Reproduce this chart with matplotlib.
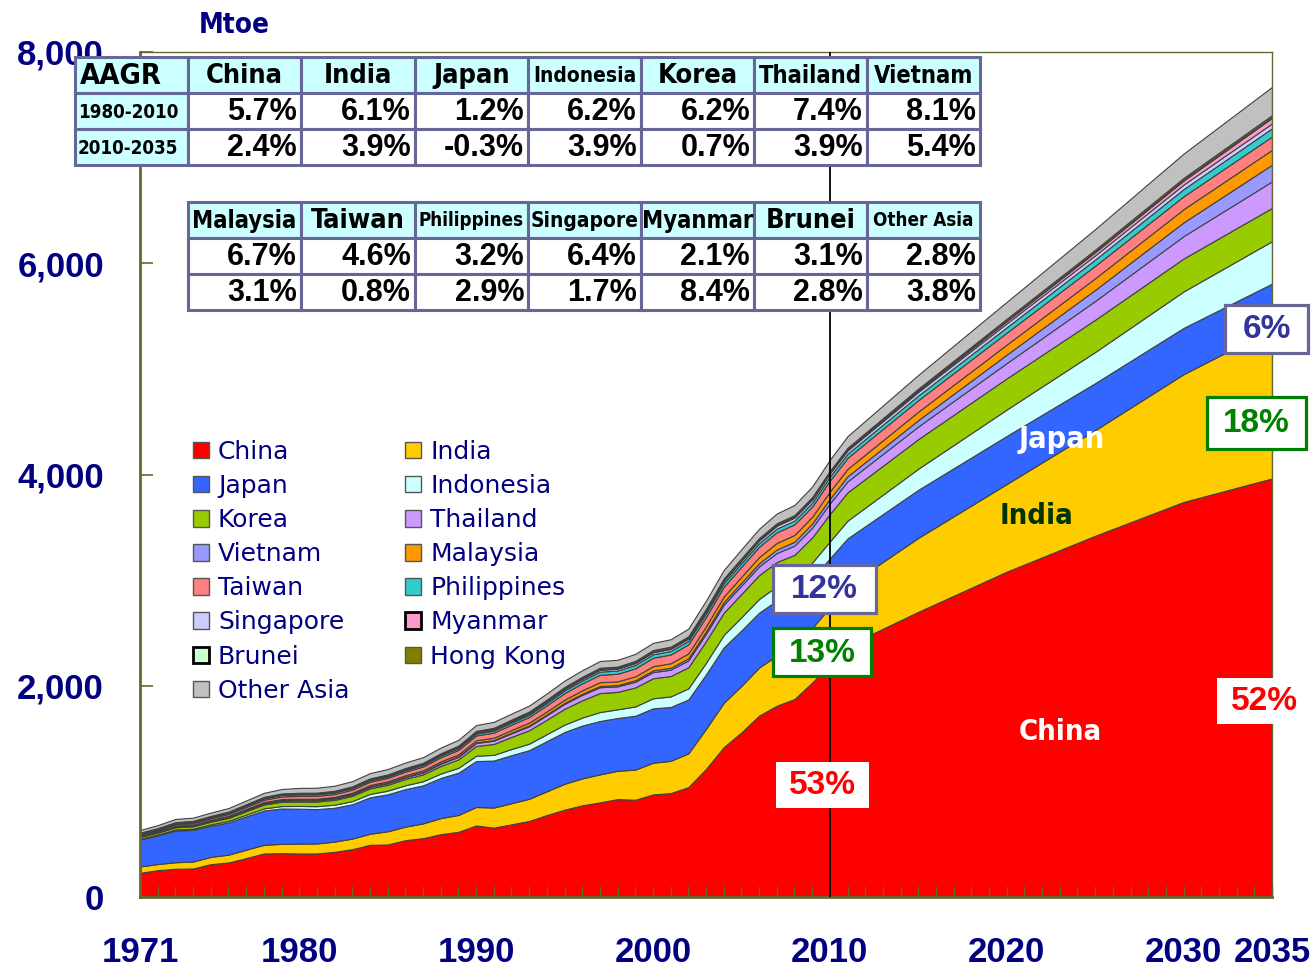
import matplotlib
matplotlib.use("Agg")
import matplotlib.pyplot as plt
from matplotlib.patches import Rectangle, Patch
from matplotlib import font_manager
from matplotlib.font_manager import FontProperties

# ---------------- data ----------------
years = list(range(1971, 2011)) + [2011, 2015, 2020, 2025, 2030, 2035]

china = [229, 254, 267, 270, 311, 327, 368, 412, 415, 412, 412, 428, 453, 494, 497, 538, 557, 595, 617, 677,
         657, 688, 720, 776, 827, 868, 896, 927, 921, 971, 984, 1040, 1213, 1418, 1559, 1717, 1811, 1874, 2031, 2200,
         2380, 2700, 3080, 3420, 3740, 3963]
india = [60, 58, 62, 66, 69, 74, 80, 82, 88, 94, 95, 97, 100, 105, 125, 128, 140, 152, 160, 175,
         190, 200, 210, 225, 245, 255, 265, 268, 285, 300, 305, 320, 380, 420, 440, 455, 475, 490, 515, 543,
         565, 700, 830, 1000, 1210, 1414]
japan = [255, 270, 300, 300, 295, 305, 315, 325, 335, 330, 325, 320, 325, 345, 350, 355, 360, 380, 400, 435,
         445, 455, 460, 475, 490, 500, 505, 500, 510, 515, 510, 510, 515, 525, 525, 520, 520, 495, 470, 463,
         450, 455, 455, 445, 438, 430]
indonesia = [8, 9, 10, 11, 13, 15, 17, 20, 23, 26, 28, 29, 30, 32, 35, 37, 39, 42, 46, 50,
             54, 58, 62, 66, 70, 76, 85, 82, 88, 95, 100, 105, 110, 118, 125, 130, 135, 145, 150, 160,
             168, 200, 250, 295, 345, 402]
korea = [17, 18, 21, 23, 25, 28, 33, 37, 41, 42, 44, 46, 50, 53, 55, 60, 65, 72, 80, 93,
         103, 115, 127, 137, 150, 163, 180, 165, 180, 190, 193, 200, 205, 210, 220, 225, 230, 235, 238, 260,
         268, 280, 295, 305, 312, 315]
thailand = [5, 5.5, 6.5, 7, 8, 8.5, 9.5, 10.5, 11.5, 12, 12, 12.5, 13, 14, 15, 16, 18, 21, 24, 28,
            31, 34, 38, 42, 47, 52, 55, 52, 54, 58, 60, 65, 70, 76, 80, 83, 86, 88, 92, 100,
            104, 120, 145, 178, 212, 251]
vietnam = [3, 3, 3.2, 3.3, 3.5, 3.7, 3.9, 4.1, 4.3, 4.4, 4.4, 4.5, 4.6, 4.7, 4.9, 5, 5.2, 5.5, 5.7, 6,
           6.3, 6.8, 7.5, 8.2, 9, 10, 11.5, 12.5, 14, 16, 18, 20, 22, 25, 28, 30, 33, 36, 40, 45,
           48, 60, 80, 105, 130, 158]
malaysia = [5, 5.3, 5.8, 6.3, 6.7, 7.2, 7.8, 8.4, 9, 9.7, 10, 10.6, 11.5, 12.5, 13.5, 14, 15, 16.5, 18, 20,
            22, 24, 26.5, 28, 30, 33, 36, 35, 37, 40, 43, 46, 48, 52, 55, 58, 62, 65, 64, 68,
            70, 80, 95, 110, 125, 141]
taiwan = [10, 11, 13, 14, 15, 17, 19, 22, 25, 27, 27, 27, 29, 31, 32, 34, 36, 39, 42, 45,
          48, 51, 54, 58, 62, 66, 70, 72, 76, 80, 83, 86, 89, 92, 95, 98, 101, 100, 96, 103,
          105, 109, 113, 118, 122, 126]
philippines = [9, 9.5, 10.5, 10.5, 11, 12, 13, 13.5, 14.5, 15, 15, 15, 15, 14, 14, 14.5, 15, 16, 17, 18,
               18.5, 20, 21, 23, 25, 27, 30, 31, 32, 33, 33, 33, 34, 34, 34, 33, 35, 36, 37, 38,
               39, 44, 51, 59, 68, 78]
singapore = [2.5, 2.7, 3, 3.2, 3.4, 3.6, 3.9, 4.2, 4.5, 4.7, 5, 5.3, 5.6, 6, 6.5, 7, 7.7, 8.5, 9.5, 11,
             12, 12.5, 13, 14, 15, 16, 17, 17, 18, 19, 20, 21, 22, 23, 24, 26, 27, 28, 29, 30,
             31, 34, 37, 40, 43, 46]
myanmar = [2.5, 2.6, 2.7, 2.8, 2.9, 3, 3.2, 3.4, 3.6, 3.7, 3.8, 3.9, 4, 4, 4.1, 4, 3.9, 3.6, 3.7, 3.8,
           3.9, 4, 4.2, 4.5, 4.7, 5, 5.2, 5.3, 5.5, 5.6, 5.8, 6, 6.2, 6.4, 6.5, 6.6, 6.7, 6.8, 6.9, 7,
           8, 12, 22, 30, 38, 52]
brunei = [0.5, 0.6, 0.7, 0.8, 0.9, 1, 1.1, 1.2, 1.25, 1.3, 1.35, 1.4, 1.45, 1.5, 1.55, 1.6, 1.6, 1.65, 1.7, 1.8,
          1.9, 2, 2, 2.1, 2.1, 2.2, 2.2, 2.3, 2.3, 2.3, 2.4, 2.5, 2.6, 2.7, 2.8, 2.9, 3, 3.1, 3.2, 3.3,
          3.4, 4, 4.5, 5.2, 6, 6.6]
hongkong = [3, 3.2, 3.5, 3.5, 3.7, 4, 4.3, 4.6, 4.8, 5, 5.3, 5.6, 6, 6.4, 6.8, 7.2, 7.6, 8, 8.5, 9,
            9.5, 10, 10.5, 11, 11.5, 12, 12.5, 12.5, 13, 13, 13, 13.5, 13.5, 13.5, 13.5, 14, 14, 14, 14, 14,
            14, 15, 17, 18, 19, 20]
other_asia = [25, 28, 30, 30, 31, 33, 35, 38, 42, 46, 47, 48, 49, 50, 51, 52, 53, 54, 55, 55,
              56, 56, 57, 58, 60, 62, 64, 64, 66, 68, 70, 73, 76, 80, 84, 88, 92, 96, 100, 105,
              110, 130, 160, 195, 230, 267]

series_names = ["China", "India", "Japan", "Indonesia", "Korea", "Thailand", "Vietnam", "Malaysia",
                "Taiwan", "Philippines", "Singapore", "Myanmar", "Brunei", "Hong Kong", "Other Asia"]
series_values = [china, india, japan, indonesia, korea, thailand, vietnam, malaysia,
                 taiwan, philippines, singapore, myanmar, brunei, hongkong, other_asia]
series_colors = ["#FF0000", "#FFCC00", "#3366FF", "#CCFFFF", "#99CC00", "#CC99FF", "#9999FF", "#FF9900",
                 "#FF8080", "#33CCCC", "#CCCCFF", "#FF99CC", "#CCFFCC", "#808000", "#C0C0C0"]

x_tick_years = [1971, 1980, 1990, 2000, 2010, 2020, 2030, 2035]
y_ticks = [0, 2000, 4000, 6000, 8000]
y_tick_labels = ["0", "2,000", "4,000", "6,000", "8,000"]

t1_header = ["AAGR", "China", "India", "Japan", "Indonesia", "Korea", "Thailand", "Vietnam"]
t1_rowlab = ["1980-2010", "2010-2035"]
t1_r1 = ["5.7%", "6.1%", "1.2%", "6.2%", "6.2%", "7.4%", "8.1%"]
t1_r2 = ["2.4%", "3.9%", "-0.3%", "3.9%", "0.7%", "3.9%", "5.4%"]
t2_header = ["Malaysia", "Taiwan", "Philippines", "Singapore", "Myanmar", "Brunei", "Other Asia"]
t2_r1 = ["6.7%", "4.6%", "3.2%", "6.4%", "2.1%", "3.1%", "2.8%"]
t2_r2 = ["3.1%", "0.8%", "2.9%", "1.7%", "8.4%", "2.8%", "3.8%"]

# ---------------- fonts ----------------
def find_condensed(bold):
    best = None
    for f in font_manager.fontManager.ttflist:
        isbold = f.weight in ("bold", 700, "heavy", 800, "demibold", 600) or (isinstance(f.weight, int) and f.weight >= 600)
        if isbold != bold or f.style != "normal":
            continue
        if f.name == "Liberation Sans Narrow":
            return FontProperties(fname=f.fname)
        if f.name == "DejaVu Sans" and str(f.stretch) in ("condensed", "semi-condensed") or "Condensed" in f.fname and "DejaVuSans" in f.fname and "Mono" not in f.fname:
            best = FontProperties(fname=f.fname)
    if best is None:
        best = FontProperties(family="Liberation Sans", weight="bold" if bold else "normal")
    return best

COND = find_condensed(False)
COND_B = find_condensed(True)
SANS = "Liberation Sans"
NAVY = "#000080"
SPINE = "#666633"

def cp(size, bold=False):
    p = (COND_B if bold else COND).copy()
    p.set_size(size)
    return p

W, H = 1311, 968
fig = plt.figure(figsize=(W / 100, H / 100), dpi=100)
ax = fig.add_axes([140 / W, 1 - 897 / H, (1272 - 140) / W, (897 - 52) / H])

ax.stackplot(years, *series_values, colors=series_colors, edgecolor="#404040", linewidth=0.8)
ax.axvline(2010, color="black", linewidth=1.3, zorder=3)

ax.set_xlim(1971, 2035)
ax.set_ylim(0, 8000)
ax.set_xticks(x_tick_years)
ax.set_xticks(list(range(1971, 2036)), minor=True)
ax.set_xticklabels([str(y) for y in x_tick_years])
ax.set_yticks(y_ticks)
ax.set_yticklabels(y_tick_labels)
for lab in ax.get_xticklabels() + ax.get_yticklabels():
    lab.set_fontfamily(SANS)
    lab.set_fontweight("bold")
    lab.set_fontsize(25)
    lab.set_color(NAVY)
ax.tick_params(axis="x", which="both", direction="in", length=8, width=1, color=SPINE, pad=28)
ax.tick_params(axis="y", which="major", direction="in", length=9, width=1.2, color=SPINE, pad=26)
for s in ax.spines.values():
    s.set_color(SPINE)
    s.set_linewidth(1.0)
ax.spines["left"].set_linewidth(2)
ax.spines["bottom"].set_linewidth(2)

# legend
handles = []
order = ["China", "Japan", "Korea", "Vietnam", "Taiwan", "Singapore", "Brunei", "Other Asia",
         "India", "Indonesia", "Thailand", "Malaysia", "Philippines", "Myanmar", "Hong Kong"]
for nm in order:
    i = series_names.index(nm)
    thick = nm in ("Myanmar", "Brunei")
    handles.append(Patch(facecolor=series_colors[i], edgecolor="black" if thick else "#555555",
                         linewidth=2 if thick else 1, label=nm))
leg = ax.legend(handles=handles, ncol=2, loc="upper left", bbox_to_anchor=(0.0468, 0.541),
                frameon=False, handlelength=0.64, handleheight=0.64,
                handletextpad=0.36, labelspacing=0.405, columnspacing=2.24, borderpad=0,
                borderaxespad=0, prop={"family": "DejaVu Sans", "size": 18})
for t in leg.get_texts():
    t.set_color(NAVY)

# ---------------- overlay helpers (figure pixel coordinates) ----------------
def rect(x0, y0, x1, y1, fc, ec, lw, z=10):
    fig.add_artist(Rectangle((x0 / W, 1 - y1 / H), (x1 - x0) / W, (y1 - y0) / H,
                             transform=fig.transFigure, facecolor=fc, edgecolor=ec,
                             linewidth=lw, zorder=z))

def txt(x, y, s, z=12, **kw):
    fig.text(x / W, 1 - y / H, s, zorder=z, **kw)

CYAN = "#CCFFFF"
TB = "#666699"

def header_size(s):
    if s in ("Philippines", "Other Asia"):
        return 13.5
    if s in ("Indonesia", "Singapore"):
        return 15
    if s in ("Thailand", "Vietnam", "Malaysia", "Myanmar"):
        return 17
    return 19.5

# table 1
cx1 = [75, 188, 301, 415, 528, 641, 754, 867, 980]
ry1 = [57, 93, 129, 165]
for r in range(3):
    for c in range(8):
        fc = CYAN if (r == 0 or c == 0) else "white"
        rect(cx1[c], ry1[r], cx1[c + 1], ry1[r + 1], fc, TB, 2.2)
for c, h in enumerate(t1_header):
    ymid = (ry1[0] + ry1[1]) / 2 + 1
    if c == 0:
        txt(cx1[0] + 5, ymid, h, ha="left", va="center", fontproperties=cp(21, True), color="black")
    else:
        txt((cx1[c] + cx1[c + 1]) / 2, ymid, h, ha="center", va="center",
            fontproperties=cp(header_size(h), True), color="black")
for r, lab in enumerate(t1_rowlab):
    txt(cx1[0] + 3, (ry1[r + 1] + ry1[r + 2]) / 2 + 1, lab, ha="left", va="center",
        fontproperties=cp(13.5, True), color="black")
for r, row in enumerate([t1_r1, t1_r2]):
    for c, v in enumerate(row):
        txt(cx1[c + 2] - 4, (ry1[r + 1] + ry1[r + 2]) / 2 + 1, v, ha="right", va="center",
            fontsize=22, family=SANS, weight="bold", color="black")

# table 2
cx2 = [188, 301, 415, 528, 641, 754, 867, 980]
ry2 = [202, 238, 274, 310]
for r in range(3):
    for c in range(7):
        fc = CYAN if r == 0 else "white"
        rect(cx2[c], ry2[r], cx2[c + 1], ry2[r + 1], fc, TB, 2.2)
for c, h in enumerate(t2_header):
    txt((cx2[c] + cx2[c + 1]) / 2, (ry2[0] + ry2[1]) / 2 + 1, h, ha="center", va="center",
        fontproperties=cp(header_size(h), True), color="black")
for r, row in enumerate([t2_r1, t2_r2]):
    for c, v in enumerate(row):
        txt(cx2[c + 1] - 4, (ry2[r + 1] + ry2[r + 2]) / 2 + 1, v, ha="right", va="center",
            fontsize=22, family=SANS, weight="bold", color="black")

# Mtoe label
txt(234, 25, "Mtoe", ha="center", va="center", fontproperties=cp(20, True), color=NAVY, z=2)

# share boxes
def sbox(x0, y0, x1, y1, s, tc, ec):
    rect(x0, y0, x1, y1, "white", ec, 2.3 if ec != "white" else 0, z=10)
    txt((x0 + x1) / 2, (y0 + y1) / 2 + 1, s, ha="center", va="center", fontsize=24,
        family=SANS, weight="bold", color=tc)

sbox(773, 565, 876, 613, "12%", "#333399", TB)
sbox(773, 628, 871, 676, "13%", "#008000", "#008000")
sbox(776, 762, 869, 808, "53%", "#FF0000", "white")
sbox(1225, 305, 1308, 353, "6%", "#333399", TB)
sbox(1207, 397, 1306, 449, "18%", "#008000", "#008000")
sbox(1217, 678, 1311, 724, "52%", "#FF0000", "white")

# in-area labels
txt(1062, 440, "Japan", ha="center", va="center", fontproperties=cp(22, True), color="white")
txt(1036, 516, "India", ha="center", va="center", fontproperties=cp(21, True), color="#003300")
txt(1060, 732, "China", ha="center", va="center", fontproperties=cp(21, True), color="white")

fig.savefig("out.png", dpi=100)
